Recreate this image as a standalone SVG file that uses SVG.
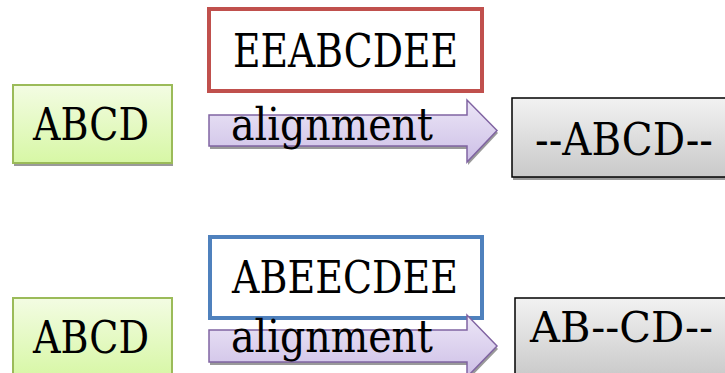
<svg xmlns="http://www.w3.org/2000/svg" width="725" height="373" viewBox="0 0 725 373">
<style>
text{font-family:"DejaVu Serif","Liberation Serif",serif;fill:#000}
.shadow{fill:#9a9a9a}
.green{fill:url(#gGreen);stroke:#9bbb59;stroke-width:2}
.gray{fill:url(#gGray);stroke:#000;stroke-width:1.5}
.red{fill:#fff;stroke:#c0504d;stroke-width:4}
.blue{fill:#fff;stroke:#4f81bd;stroke-width:4}
.arrow{fill:url(#gPurple);stroke:#8064a2;stroke-width:1.5}
</style>
<defs>
<linearGradient id="gGreen" x1="0" y1="0" x2="0" y2="1"><stop offset="0" stop-color="#f3fce3"/><stop offset="1" stop-color="#d7f7a5"/></linearGradient>
<linearGradient id="gGray" x1="0" y1="0" x2="0" y2="1"><stop offset="0" stop-color="#f2f2f2"/><stop offset="1" stop-color="#c9c9c9"/></linearGradient>
<linearGradient id="gPurple" x1="0" y1="0" x2="0" y2="1"><stop offset="0" stop-color="#ece6f7"/><stop offset="1" stop-color="#cdbfe6"/></linearGradient>
</defs>
<rect width="725" height="373" fill="#fff"/>

<g id="src1">
<rect class="shadow" x="14" y="88" width="159" height="78"/>
<rect class="green" x="13" y="85" width="159" height="78"/>
<text x="33" y="140" font-size="44" textLength="116" lengthAdjust="spacingAndGlyphs">ABCD</text>
</g>
<g id="ref1">
<rect class="red" x="209" y="9" width="273" height="82"/>
<text x="233" y="67" font-size="46" textLength="225" lengthAdjust="spacingAndGlyphs">EEABCDEE</text>
</g>
<g id="out1">
<rect class="shadow" x="513" y="101" width="220" height="79"/>
<rect class="gray" x="512" y="98" width="220" height="79"/>
<text x="535" y="155" font-size="44" textLength="178" lengthAdjust="spacingAndGlyphs">--ABCD--</text>
</g>

<g id="src2">
<rect class="shadow" x="14" y="301" width="159" height="80"/>
<rect class="green" x="13" y="298" width="159" height="80"/>
<text x="33" y="353" font-size="44" textLength="116" lengthAdjust="spacingAndGlyphs">ABCD</text>
</g>
<g id="ref2">
<rect class="blue" x="210" y="237" width="272" height="81"/>
<text x="232" y="293" font-size="45" textLength="226" lengthAdjust="spacingAndGlyphs">ABEECDEE</text>
</g>
<g id="out2">
<rect class="shadow" x="516" y="301" width="220" height="80"/>
<rect class="gray" x="515" y="298" width="220" height="80"/>
<text x="530" y="342" font-size="42" textLength="183" lengthAdjust="spacingAndGlyphs">AB--CD--</text>
</g>

<g id="connectors">
<g id="arrow1">
<path class="shadow" d="M210,118 H468 V103 L498,133 L468,165 V149 H210 Z"/>
<path class="arrow" d="M209,115 H467 V100 L497,130.5 L467,162 V146 H209 Z"/>
<text x="231" y="140" font-size="44" textLength="202" lengthAdjust="spacingAndGlyphs">alignment</text>
</g>
<g id="arrow2">
<path class="shadow" d="M210,333 H468 V318 L498,349 L468,380 V365 H210 Z"/>
<path class="arrow" d="M209,330 H467 V315 L497,346 L467,377 V362 H209 Z"/>
<text x="231" y="352" font-size="44" textLength="202" lengthAdjust="spacingAndGlyphs">alignment</text>
</g>
</g>
</svg>
